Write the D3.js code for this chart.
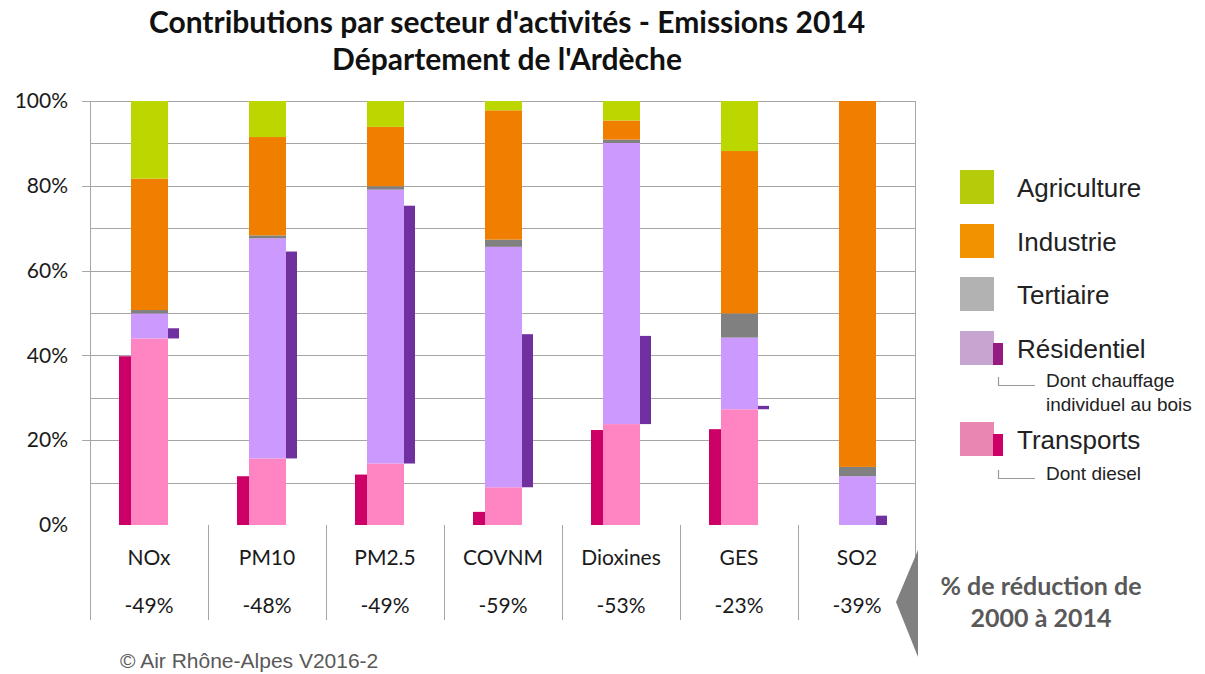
<!DOCTYPE html>
<html lang="fr">
<head>
<meta charset="utf-8">
<title>Contributions par secteur d'activités - Ardèche</title>
<script src="https://d3js.org/d3.v7.min.js"></script>
<style>
  body { margin: 0; background: #fff; }
</style>
</head>
<body>
<script>
// données (% des émissions 2014)
var polluants   = ["NOx", "PM10", "PM2.5", "COVNM", "Dioxines", "GES", "SO2"];
var reductions  = ["-49%", "-48%", "-49%", "-59%", "-53%", "-23%", "-39%"];
var transports  = [44.0, 15.7, 14.5, 8.9, 23.8, 27.3, 0];
var residentiel = [5.9, 51.9, 64.6, 56.7, 66.3, 16.9, 11.5];
var tertiaire   = [0.8, 0.7, 0.8, 1.7, 0.8, 5.7, 2.2];
var industrie   = [31.0, 23.2, 14.0, 30.5, 4.5, 38.3, 86.3];
var agriculture = [18.3, 8.5, 6.1, 2.2, 4.6, 11.8, 0];
var diesel      = [39.8, 11.5, 11.9, 3.1, 22.4, 22.6, 0];
var boisChauffage = [2.4, 48.8, 60.8, 36.1, 20.8, 0.8, 2.2];
var yTicks = [0, 20, 40, 60, 80, 100];

var secteurs = ["Transports", "Résidentiel", "Tertiaire", "Industrie", "Agriculture"];
var couleurs = {
  "Transports": "#ff85c2",
  "Résidentiel": "#cc99ff",
  "Tertiaire": "#808080",
  "Industrie": "#f07f00",
  "Agriculture": "#bcd600"
};

var width = 1205, height = 674;
var svg = d3.select("body").append("svg")
    .attr("width", width)
    .attr("height", height);

var x = d3.scaleBand()
    .domain(polluants)
    .range([90, 916]);

var y = d3.scaleLinear()
    .domain([0, 100])
    .range([525, 101]);

var bw = x.bandwidth();

// lignes de grille
svg.append("g")
  .selectAll("line")
  .data(d3.range(10, 101, 10))
  .enter().append("line")
    .attr("x1", function(d) { return d % 20 == 0 ? 82 : 90; })
    .attr("x2", 916)
    .attr("y1", function(d) { return Math.round(y(d)) + 0.5; })
    .attr("y2", function(d) { return Math.round(y(d)) + 0.5; })
    .attr("stroke", "#a6a6a6")
    .attr("stroke-width", 1);

// axe Y
var yAxis = svg.append("g")
    .attr("transform", "translate(90,0)")
    .call(d3.axisLeft(y)
      .tickValues(yTicks)
      .tickSize(0)
      .tickPadding(22)
      .tickFormat(function(d) { return d + "%"; }));
yAxis.select(".domain").remove();
yAxis.selectAll("text")
    .attr("font-family", "Lato, 'Open Sans', sans-serif")
    .attr("font-size", "21px")
    .attr("fill", "#1a1a1a");

// cadre + séparateurs des catégories
svg.append("line")
    .attr("x1", 90.5).attr("x2", 90.5)
    .attr("y1", 101).attr("y2", 620)
    .attr("stroke", "#a6a6a6");
svg.append("line")
    .attr("x1", 915.5).attr("x2", 915.5)
    .attr("y1", 101).attr("y2", 620)
    .attr("stroke", "#a6a6a6");
svg.append("g")
  .selectAll("line")
  .data(polluants.slice(1))
  .enter().append("line")
    .attr("x1", function(d) { return Math.round(x(d)) + 0.5; })
    .attr("x2", function(d) { return Math.round(x(d)) + 0.5; })
    .attr("y1", 525)
    .attr("y2", 620)
    .attr("stroke", "#a6a6a6");

// barres empilées
var table = polluants.map(function(p, i) {
  return {
    polluant: p,
    "Transports": transports[i],
    "Résidentiel": residentiel[i],
    "Tertiaire": tertiaire[i],
    "Industrie": industrie[i],
    "Agriculture": agriculture[i]
  };
});
var series = d3.stack().keys(secteurs)(table);

svg.append("g")
  .selectAll("g")
  .data(series)
  .enter().append("g")
    .attr("fill", function(d) { return couleurs[d.key]; })
  .selectAll("rect")
  .data(function(d) { return d; })
  .enter().append("rect")
    .attr("x", function(d) { return x(d.data.polluant) + bw / 2 - 18; })
    .attr("width", 37)
    .attr("y", function(d) { return y(d[1]); })
    .attr("height", function(d) { return y(d[0]) - y(d[1]); });

// dont diesel (à gauche)
svg.append("g")
  .selectAll("rect")
  .data(polluants)
  .enter().append("rect")
    .attr("x", function(d) { return x(d) + bw / 2 - 30; })
    .attr("width", 12)
    .attr("y", function(d, i) { return y(diesel[i]); })
    .attr("height", function(d, i) { return y(0) - y(diesel[i]); })
    .attr("fill", "#cc0066");

// dont chauffage individuel au bois (à droite, depuis la base du résidentiel)
svg.append("g")
  .selectAll("rect")
  .data(polluants)
  .enter().append("rect")
    .attr("x", function(d) { return x(d) + bw / 2 + 19; })
    .attr("width", 11)
    .attr("y", function(d, i) { return y(transports[i] + boisChauffage[i]); })
    .attr("height", function(d, i) { return y(transports[i]) - y(transports[i] + boisChauffage[i]); })
    .attr("fill", "#7030a0");

// libellés des catégories et réductions
var labels = svg.append("g")
    .attr("font-family", "Lato, 'Open Sans', sans-serif")
    .attr("font-size", "21px")
    .attr("fill", "#1a1a1a")
    .attr("text-anchor", "middle");
labels.selectAll(".cat")
  .data(polluants)
  .enter().append("text")
    .attr("class", "cat")
    .attr("x", function(d) { return x(d) + bw / 2; })
    .attr("y", 565)
    .text(function(d) { return d; });
labels.selectAll(".red")
  .data(polluants)
  .enter().append("text")
    .attr("class", "red")
    .attr("x", function(d) { return x(d) + bw / 2; })
    .attr("y", 613)
    .text(function(d, i) { return reductions[i]; });

// flèche grise + texte
svg.append("path")
    .attr("d", "M918,550 L918,657 L896,602 Z")
    .attr("fill", "#808080");
var red = svg.append("text")
    .attr("font-family", "Lato, 'Open Sans', sans-serif")
    .attr("font-weight", "bold")
    .attr("font-size", "25px")
    .attr("fill", "#595959")
    .attr("text-anchor", "middle");
red.append("tspan").attr("x", 1041).attr("y", 595).text("% de réduction de");
red.append("tspan").attr("x", 1041).attr("y", 627).text("2000 à 2014");

// titre
var title = svg.append("text")
    .attr("font-family", "Lato, 'Open Sans', sans-serif")
    .attr("font-weight", "bold")
    .attr("font-size", "30px")
    .attr("fill", "#111")
    .attr("text-anchor", "middle");
title.append("tspan").attr("x", 507).attr("y", 33).text("Contributions par secteur d'activités - Emissions 2014");
title.append("tspan").attr("x", 507).attr("y", 70).text("Département de l'Ardèche");

// légende
var legende = [
  { nom: "Agriculture", couleur: "#b5cc0a", top: 170 },
  { nom: "Industrie", couleur: "#f39200", top: 224 },
  { nom: "Tertiaire", couleur: "#b2b2b2", top: 277 },
  { nom: "Résidentiel", couleur: "#c6a5d0", top: 331, petit: "#951b81" },
  { nom: "Transports", couleur: "#ea87b0", top: 422, petit: "#cc0066" }
];
var leg = svg.append("g");
leg.selectAll("rect.grand")
  .data(legende)
  .enter().append("rect")
    .attr("class", "grand")
    .attr("x", 960)
    .attr("y", function(d) { return d.top; })
    .attr("width", 34)
    .attr("height", 34)
    .attr("fill", function(d) { return d.couleur; });
leg.selectAll("rect.petit")
  .data(legende.filter(function(d) { return d.petit; }))
  .enter().append("rect")
    .attr("class", "petit")
    .attr("x", 993)
    .attr("y", function(d) { return d.top + 12; })
    .attr("width", 10)
    .attr("height", 22)
    .attr("fill", function(d) { return d.petit; });
leg.selectAll("text")
  .data(legende)
  .enter().append("text")
    .attr("x", 1017)
    .attr("y", function(d) { return d.top + 27; })
    .attr("font-family", "'Liberation Sans', Arial, sans-serif")
    .attr("font-size", "26px")
    .attr("fill", "#222")
    .text(function(d) { return d.nom; });

// sous-libellés "dont"
function dont(yTop, lignes) {
  leg.append("path")
      .attr("d", "M998.5," + yTop + " V" + (yTop + 8.5) + " H1035")
      .attr("fill", "none")
      .attr("stroke", "#999")
      .attr("stroke-width", 1.2);
  var t = leg.append("text")
      .attr("font-family", "'Liberation Sans', Arial, sans-serif")
      .attr("font-size", "19px")
      .attr("fill", "#222");
  lignes.forEach(function(l, i) {
    t.append("tspan").attr("x", 1046).attr("y", yTop + 10 + i * 23.5).text(l);
  });
}
dont(377, ["Dont chauffage", "individuel au bois"]);
dont(470, ["Dont diesel"]);

// copyright
svg.append("text")
    .attr("x", 120)
    .attr("y", 668)
    .attr("font-family", "'Liberation Sans', Arial, sans-serif")
    .attr("font-size", "21px")
    .attr("fill", "#595959")
    .text("© Air Rhône-Alpes V2016-2");
</script>
</body>
</html>
